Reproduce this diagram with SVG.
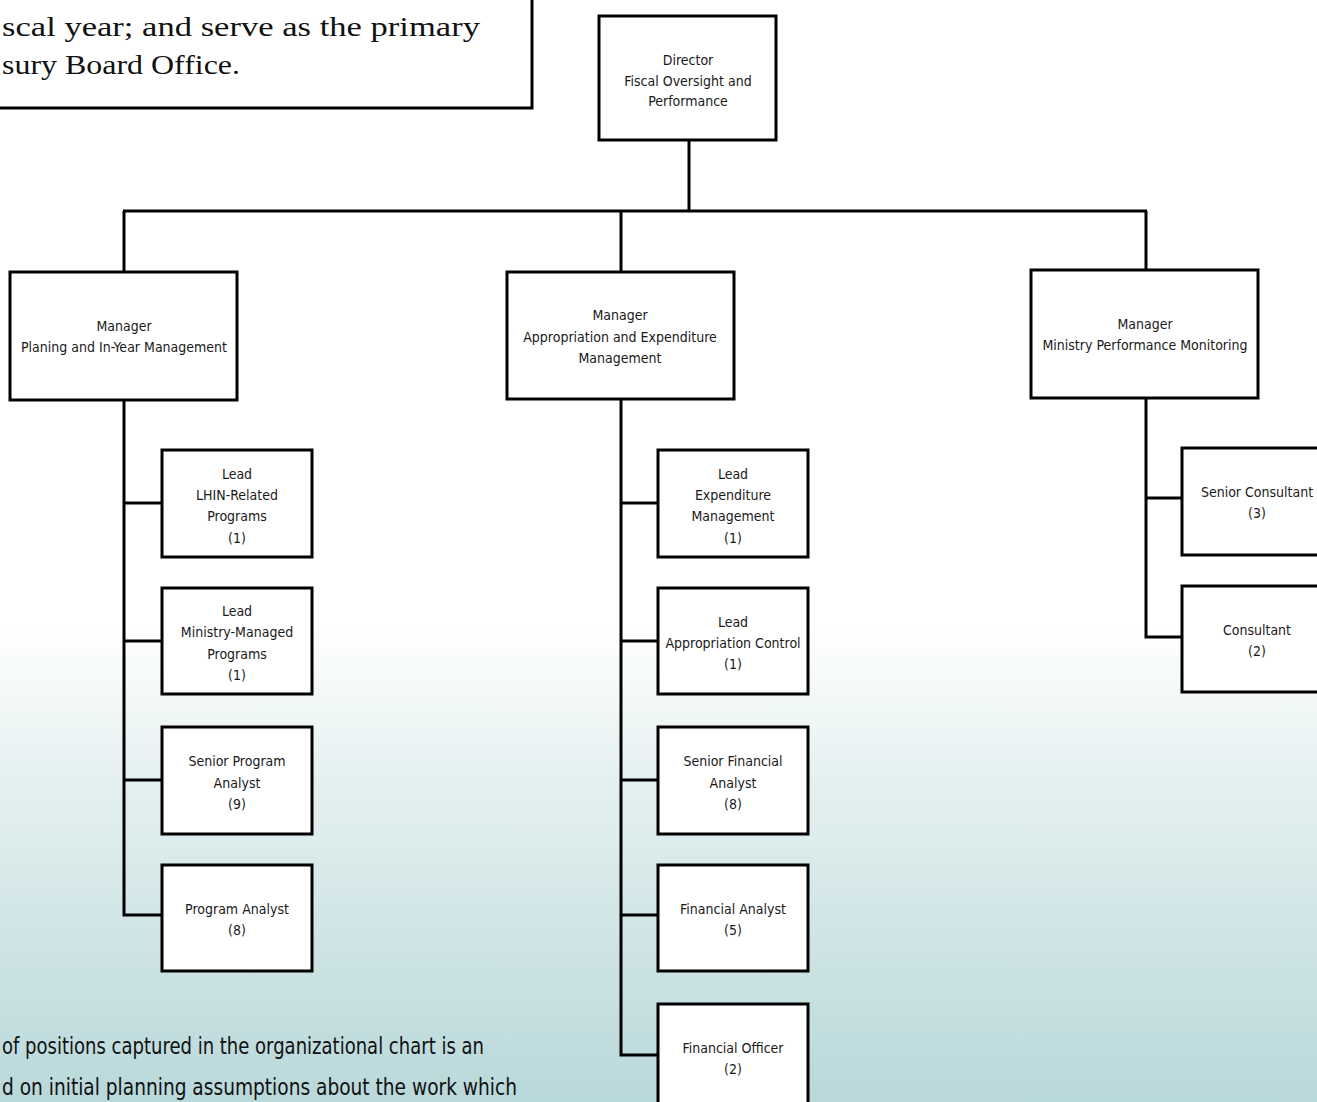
<svg xmlns="http://www.w3.org/2000/svg" width="1317" height="1102" viewBox="0 0 1317 1102">
  <defs>
    <linearGradient id="bg" x1="0" y1="0" x2="0" y2="1102" gradientUnits="userSpaceOnUse">
      <stop offset="0" stop-color="#ffffff"/>
      <stop offset="0.57" stop-color="#ffffff"/>
      <stop offset="0.7" stop-color="#e6f1f1"/>
      <stop offset="1" stop-color="#b9d8da"/>
    </linearGradient>
    <style>
      .box { fill: #ffffff; stroke: #000000; stroke-width: 3; }
      .wire { fill: none; stroke: #000000; stroke-width: 3; }
      .lbl { font-family: "Liberation Sans Narrow", "DejaVu Sans Condensed", "Liberation Sans", sans-serif; font-size: 14px; fill: #1a1a1a; text-anchor: middle; }
      .note { font-family: "Liberation Sans Narrow", "DejaVu Sans Condensed", "Liberation Sans", sans-serif; font-size: 23px; fill: #111111; }
      .body { font-family: "Liberation Serif", "DejaVu Serif", serif; font-size: 28px; fill: #111111; }
    </style>
  </defs>

  <rect x="0" y="0" width="1317" height="1102" fill="url(#bg)"/>

  <!-- Text panel at top left -->
  <g id="intro-panel">
    <rect x="-5" y="-5" width="537" height="113" class="box"/>
    <text class="body" x="2" y="36" textLength="478" lengthAdjust="spacingAndGlyphs">scal year; and serve as the primary</text>
    <text class="body" x="2" y="74" textLength="238" lengthAdjust="spacingAndGlyphs">sury Board Office.</text>
  </g>

  <!-- Footnote text -->
  <g id="footnote">
    <text class="note" x="2" y="1054" textLength="482" lengthAdjust="spacingAndGlyphs">of positions captured in the organizational chart is an</text>
    <text class="note" x="2" y="1095" textLength="515" lengthAdjust="spacingAndGlyphs">d on initial planning assumptions about the work which</text>
  </g>

  <!-- Connectors -->
  <g id="connectors">
    <path class="wire" d="M689 140 V211 M123 211 H1147 M124 211 V272 M621 211 V272 M1146 211 V270"/>
    <path class="wire" d="M124 400 V915 H162 M124 503 H162 M124 641 H162 M124 780 H162"/>
    <path class="wire" d="M621 400 V1055 H658 M621 503 H658 M621 641 H658 M621 780 H658 M621 915 H658"/>
    <path class="wire" d="M1146 398 V637 H1182 M1146 498 H1182"/>
  </g>

  <!-- Director -->
  <g id="director">
    <rect x="599" y="16" width="177" height="124" class="box"/>
    <text class="lbl" x="688" y="65">Director</text>
    <text class="lbl" x="688" y="86">Fiscal Oversight and</text>
    <text class="lbl" x="688" y="106">Performance</text>
  </g>

  <!-- Managers -->
  <g id="mgr-planning">
    <rect x="10" y="272" width="227" height="128" class="box"/>
    <text class="lbl" x="124" y="331">Manager</text>
    <text class="lbl" x="124" y="352">Planing and In-Year Management</text>
  </g>
  <g id="mgr-appropriation">
    <rect x="507" y="272" width="227" height="127" class="box"/>
    <text class="lbl" x="620" y="320">Manager</text>
    <text class="lbl" x="620" y="342">Appropriation and Expenditure</text>
    <text class="lbl" x="620" y="363">Management</text>
  </g>
  <g id="mgr-performance">
    <rect x="1031" y="270" width="227" height="128" class="box"/>
    <text class="lbl" x="1145" y="329">Manager</text>
    <text class="lbl" x="1145" y="350">Ministry Performance Monitoring</text>
  </g>

  <!-- Planning team -->
  <g id="lead-lhin">
    <rect x="162" y="450" width="150" height="107" class="box"/>
    <text class="lbl" x="237" y="479">Lead</text>
    <text class="lbl" x="237" y="500">LHIN-Related</text>
    <text class="lbl" x="237" y="521">Programs</text>
    <text class="lbl" x="237" y="543">(1)</text>
  </g>
  <g id="lead-ministry">
    <rect x="162" y="588" width="150" height="106" class="box"/>
    <text class="lbl" x="237" y="616">Lead</text>
    <text class="lbl" x="237" y="637">Ministry-Managed</text>
    <text class="lbl" x="237" y="659">Programs</text>
    <text class="lbl" x="237" y="680">(1)</text>
  </g>
  <g id="senior-program-analyst">
    <rect x="162" y="727" width="150" height="107" class="box"/>
    <text class="lbl" x="237" y="766">Senior Program</text>
    <text class="lbl" x="237" y="788">Analyst</text>
    <text class="lbl" x="237" y="809">(9)</text>
  </g>
  <g id="program-analyst">
    <rect x="162" y="865" width="150" height="106" class="box"/>
    <text class="lbl" x="237" y="914">Program Analyst</text>
    <text class="lbl" x="237" y="935">(8)</text>
  </g>

  <!-- Appropriation team -->
  <g id="lead-expenditure">
    <rect x="658" y="450" width="150" height="107" class="box"/>
    <text class="lbl" x="733" y="479">Lead</text>
    <text class="lbl" x="733" y="500">Expenditure</text>
    <text class="lbl" x="733" y="521">Management</text>
    <text class="lbl" x="733" y="543">(1)</text>
  </g>
  <g id="lead-appropriation">
    <rect x="658" y="588" width="150" height="106" class="box"/>
    <text class="lbl" x="733" y="627">Lead</text>
    <text class="lbl" x="733" y="648">Appropriation Control</text>
    <text class="lbl" x="733" y="669">(1)</text>
  </g>
  <g id="senior-financial-analyst">
    <rect x="658" y="727" width="150" height="107" class="box"/>
    <text class="lbl" x="733" y="766">Senior Financial</text>
    <text class="lbl" x="733" y="788">Analyst</text>
    <text class="lbl" x="733" y="809">(8)</text>
  </g>
  <g id="financial-analyst">
    <rect x="658" y="865" width="150" height="106" class="box"/>
    <text class="lbl" x="733" y="914">Financial Analyst</text>
    <text class="lbl" x="733" y="935">(5)</text>
  </g>
  <g id="financial-officer">
    <rect x="658" y="1004" width="150" height="107" class="box"/>
    <text class="lbl" x="733" y="1053">Financial Officer</text>
    <text class="lbl" x="733" y="1074">(2)</text>
  </g>

  <!-- Performance team -->
  <g id="senior-consultant">
    <rect x="1182" y="448" width="150" height="107" class="box"/>
    <text class="lbl" x="1257" y="497">Senior Consultant</text>
    <text class="lbl" x="1257" y="518">(3)</text>
  </g>
  <g id="consultant">
    <rect x="1182" y="586" width="150" height="106" class="box"/>
    <text class="lbl" x="1257" y="635">Consultant</text>
    <text class="lbl" x="1257" y="656">(2)</text>
  </g>
</svg>
